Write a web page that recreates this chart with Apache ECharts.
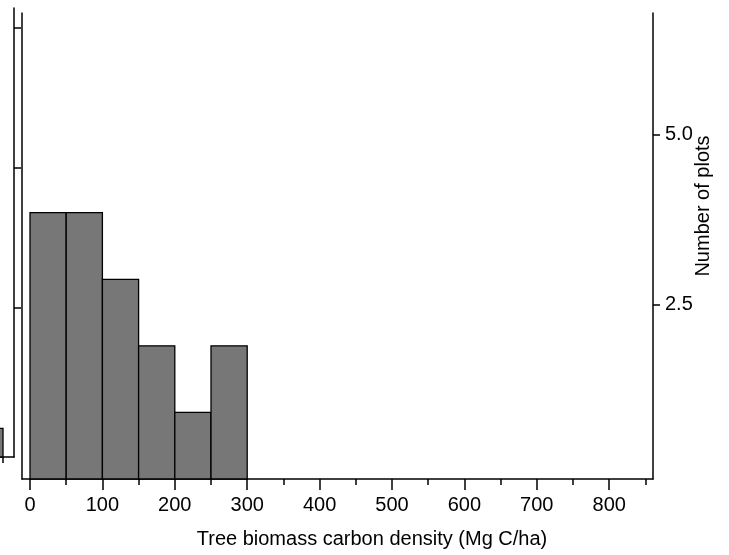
<!DOCTYPE html>
<html>
<head>
<meta charset="utf-8">
<script src="https://cdn.jsdelivr.net/npm/echarts@6/dist/echarts.min.js"></script>
<style>
html,body{margin:0;padding:0;background:#fff;}
#chart{width:729px;height:555px;}
</style>
</head>
<body>
<div id="chart"></div>
<script>
// Histogram bins (Mg C/ha) and plot counts
const binStarts = [0, 50, 100, 150, 200, 250];
const binEnds   = [50, 100, 150, 200, 250, 300];
const counts    = [4, 4, 3, 2, 1, 2];

// Axis ticks
const xMajorTicks = [0, 100, 200, 300, 400, 500, 600, 700, 800];
const xMinorTicks = [50, 150, 250, 350, 450, 550, 650, 750, 850];
const rightTicks  = [2.5, 5.0];

// Partially visible neighbouring panel at far left
const ghostTicksY = [1, 2, 3];
const ghostTicksX = [0];
const ghostBarStart = [-50];
const ghostBarEnd = [0];
const ghostCounts = [0.14];

const xTitle = 'Tree biomass carbon density (Mg C/ha)';
const yTitle = 'Number of plots';

const FONT = 'Liberation Sans, Arial, sans-serif';
const lineStyle = {color: '#000', width: 1.5};

const binData = binStarts.map((s, i) => [s, binEnds[i], counts[i]]);
const ghostData = ghostBarStart.map((s, i) => [s, ghostBarEnd[i], ghostCounts[i]]);
const ghostYMin = -0.064;

function histRender(base) {
  return function (params, api) {
    const x0 = api.value(0), x1 = api.value(1), c = api.value(2);
    const p0 = api.coord([x0, c]);
    const p1 = api.coord([x1, base]);
    return {
      type: 'rect',
      shape: {x: p0[0], y: p0[1], width: p1[0] - p0[0], height: p1[1] - p0[1]},
      style: {fill: '#777777', stroke: '#000', lineWidth: 1.3}
    };
  };
}

const chart = echarts.init(document.getElementById('chart'), null, {renderer: 'canvas'});
chart.setOption({
  animation: false,
  backgroundColor: '#fff',
  textStyle: {fontFamily: FONT},
  grid: [
    {left: 22, top: 13, width: 631, height: 466, containLabel: false},
    {left: 0, top: 8, width: 14, height: 449, containLabel: false}
  ],
  xAxis: [
    {
      type: 'value', gridIndex: 0, min: -11.05, max: 860.5, position: 'bottom',
      axisLine: {show: true, onZero: false, lineStyle: lineStyle},
      axisTick: {show: true, length: 11, lineStyle: lineStyle, customValues: xMajorTicks},
      axisLabel: {show: true, customValues: xMajorTicks, fontSize: 20, color: '#000', margin: 16, fontFamily: FONT},
      splitLine: {show: false}
    },
    {
      type: 'value', gridIndex: 0, min: -11.05, max: 860.5, position: 'bottom',
      axisLine: {show: false, onZero: false},
      axisTick: {show: true, length: 6, lineStyle: lineStyle, customValues: xMinorTicks},
      axisLabel: {show: false},
      splitLine: {show: false}
    },
    {
      type: 'value', gridIndex: 1, min: -3, max: 11, position: 'bottom',
      axisLine: {show: true, onZero: false, lineStyle: lineStyle},
      axisTick: {show: true, length: 6, lineStyle: lineStyle, customValues: ghostTicksX},
      axisLabel: {show: false},
      splitLine: {show: false}
    }
  ],
  yAxis: [
    {
      type: 'value', gridIndex: 0, min: 0, max: 7, position: 'left',
      axisLine: {show: true, onZero: false, lineStyle: lineStyle},
      axisTick: {show: false}, axisLabel: {show: false}, splitLine: {show: false}
    },
    {
      type: 'value', gridIndex: 0, min: -0.069, max: 6.784, position: 'right',
      axisLine: {show: true, onZero: false, lineStyle: lineStyle},
      axisTick: {show: true, length: 7, lineStyle: lineStyle, customValues: rightTicks},
      axisLabel: {show: true, customValues: rightTicks, fontSize: 20, color: '#000', margin: 12,
        fontFamily: FONT, formatter: v => Number(v).toFixed(1)},
      splitLine: {show: false}
    },
    {
      type: 'value', gridIndex: 1, min: ghostYMin, max: 3.143, position: 'right',
      axisLine: {show: true, onZero: false, lineStyle: lineStyle},
      axisTick: {show: true, length: 7, lineStyle: lineStyle, customValues: ghostTicksY},
      axisLabel: {show: false}, splitLine: {show: false}
    }
  ],
  graphic: [
    {
      type: 'text', x: 372, y: 539,
      style: {text: xTitle, font: '20px ' + FONT, fill: '#000', align: 'center', verticalAlign: 'middle'}
    },
    {
      type: 'text', x: 703, y: 206, rotation: Math.PI / 2,
      style: {text: yTitle, font: '20px ' + FONT, fill: '#000', align: 'center', verticalAlign: 'middle'}
    }
  ],
  series: [
    {
      type: 'custom', xAxisIndex: 0, yAxisIndex: 0, data: binData,
      renderItem: histRender(0), z: 1
    },
    {
      type: 'custom', xAxisIndex: 2, yAxisIndex: 2, data: ghostData,
      renderItem: histRender(ghostYMin), z: 1
    }
  ]
});
</script>
</body>
</html>
